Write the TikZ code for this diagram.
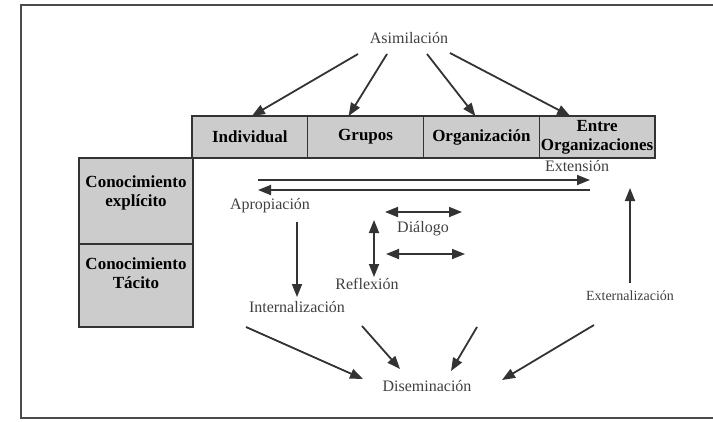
\documentclass[tikz,border=0pt]{standalone}
\usepackage{fontspec}
\setmainfont{Liberation Serif}
\usetikzlibrary{arrows.meta}
\usetikzlibrary{positioning}

\tikzset{
  cellbox/.style={draw=black!80, line width=1.4pt, fill=black!20,
    minimum width=115.75pt, minimum height=42pt, inner sep=0pt, outer sep=0pt,
    align=center, font=\fontsize{17}{19}\selectfont\bfseries},
  sidebox/.style={draw=black!80, line width=1.4pt, fill=black!20,
    minimum width=114pt, inner sep=0pt, outer sep=0pt},
  sidetext/.style={align=center, inner sep=0pt, font=\fontsize{17}{19}\selectfont\bfseries},
  flowlabel/.style={text=black!75, inner sep=1pt, font=\fontsize{16}{18}\selectfont},
  flow/.style={draw=black!80, line width=1.8pt, -{Triangle[length=13pt,width=10pt]}},
  dflow/.style={flow, {Triangle[length=13pt,width=10pt]}-{Triangle[length=13pt,width=10pt]}},
}

\begin{document}
\begin{tikzpicture}[x=1pt,y=-1pt]
  \useasboundingbox (0,0) rectangle (713,421);
  \draw[black!70, line width=1.5pt] (713,5) -- (21,5) -- (21,418) -- (713,418);

  \node (ind) [cellbox] at (249.875,137) {Individual};
  \node (grp) [cellbox, right=0pt of ind] {Grupos};
  \node (org) [cellbox, right=0pt of grp] {Organización};
  \node (ent) [cellbox, right=0pt of org] {Entre\\Organizaciones};

  \node (expl) [sidebox, minimum height=86pt] at (136,201) {};
  \node (tac) [sidebox, minimum height=83pt, below=0pt of expl] {};
  \node (expltxt) [sidetext] at (136,193) {Conocimiento\\explícito};
  \node (tactxt) [sidetext] at (136,273) {Conocimiento\\Tácito};

  \node (asim) [flowlabel] at (409,38) {Asimilación};
  \node (ext) [flowlabel] at (577,166) {Extensión};
  \node (aprop) [flowlabel] at (270,206) {Apropiación};
  \node (dial) [flowlabel] at (423,229) {Diálogo};
  \node (refl) [flowlabel] at (367,284) {Reflexión};
  \node (intern) [flowlabel] at (297,307) {Internalización};
  \node (extern) [flowlabel, font=\fontsize{14}{16}\selectfont] at (630,296) {Externalización};
  \node (disem) [flowlabel] at (427,386) {Diseminación};

  \path (asim) +(-51,16) coordinate (asim1) +(-22,16) coordinate (asim2)
    +(18,16) coordinate (asim3) +(41,15) coordinate (asim4);
  \path (ind.north) +(2,0) coordinate (indi);
  \path (grp.north) +(-17,0) coordinate (grpi);
  \path (org.north) +(-6,0) coordinate (orgi);
  \path (ent.north) +(-27,0) coordinate (enti);
  \draw[flow] (asim1) -- (indi);
  \draw[flow] (asim2) -- (grpi);
  \draw[flow] (asim3) -- (orgi);
  \draw[flow] (asim4) -- (enti);

  \path (ind.south west) +(66,22) coordinate (extl) +(66,32) coordinate (aprl);
  \path (ent.south east) +(-65,22) coordinate (extr) +(-65,32) coordinate (aprr);
  \draw[flow] (extl) -- (extr);
  \draw[flow] (aprr) -- (aprl);

  \path (intern) +(0,-85) coordinate (interni) +(0,-10) coordinate (interno);
  \draw[flow] (interni) -- (interno);

  \path (dial) +(-38,-17) coordinate (diall) +(39,-17) coordinate (dialr)
    +(-37,25) coordinate (dialbl) +(42,25) coordinate (dialbr);
  \draw[dflow] (diall) -- (dialr);
  \draw[dflow] (dialbl) -- (dialbr);

  \path (refl) +(7,-64) coordinate (reflt) +(7,-7) coordinate (reflb);
  \draw[dflow] (reflt) -- (reflb);

  \path (extern) +(0,-13) coordinate (externb) +(0,-108) coordinate (externt);
  \draw[flow] (externb) -- (externt);

  \path (intern) +(-51,20) coordinate (dis1) ;
  \path (refl) +(-5,42) coordinate (dis2);
  \path (dial) +(54,98) coordinate (dis3);
  \path (extern) +(-36,29) coordinate (dis4);
  \path (disem) +(-64,-7) coordinate (disi1) +(-27,-17) coordinate (disi2)
    +(24,-15) coordinate (disi3) +(75,-6) coordinate (disi4);
  \draw[flow] (dis1) -- (disi1);
  \draw[flow] (dis2) -- (disi2);
  \draw[flow] (dis3) -- (disi3);
  \draw[flow] (dis4) -- (disi4);
\end{tikzpicture}
\end{document}
